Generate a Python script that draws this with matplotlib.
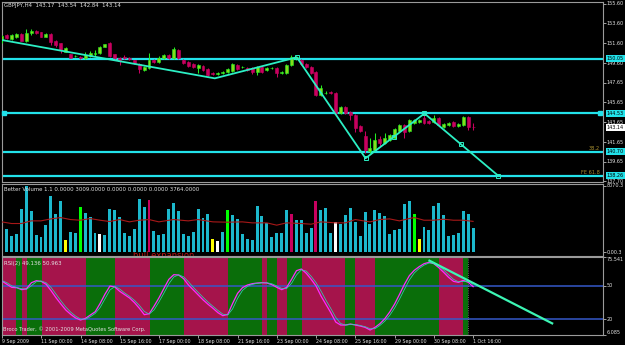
import matplotlib
matplotlib.use("Agg")
import matplotlib.pyplot as plt
import matplotlib.transforms as mtransforms
import numpy as np

# ---- GBPJPY H4 candles (9 Sep 16:00 .. 1 Oct 16:00) ----
opens = [151.93, 152.44, 152.03, 152.24, 152.54, 151.83, 152.64, 152.84, 152.74, 152.24,
         152.54, 151.83, 151.63, 150.72, 150.52, 150.32, 150.22, 150.12, 150.32, 150.52,
         150.62, 151.23, 151.63, 150.52, 150.12, 150.22, 150.12, 149.92, 149.52, 148.91,
         149.11, 149.92, 149.72, 150.12, 150.42, 150.12, 150.93, 149.92, 149.72, 149.52,
         149.11, 149.32, 149.01, 148.61, 148.51, 148.61, 148.71, 148.81, 149.42, 149.21,
         149.11, 149.11, 148.71, 149.21, 148.91, 149.11, 149.11, 148.61, 148.61, 149.42,
         150.02, 149.92, 149.52, 149.21, 148.71, 146.39, 146.60, 146.70, 146.60, 144.58,
         145.19, 144.68, 144.38, 143.27, 142.27, 140.76, 140.86, 141.96, 141.56, 141.86,
         142.06, 142.77, 143.37, 142.77, 143.57, 143.68, 144.08, 143.78, 143.68, 144.08,
         143.17, 143.37, 143.68, 143.27, 143.37, 144.18, 143.17]
highs = [152.44, 152.54, 152.54, 152.64, 152.64, 153.04, 153.04, 152.94, 152.74, 152.64,
         152.64, 151.93, 151.63, 151.23, 150.52, 150.42, 150.32, 150.72, 150.82, 150.93,
         151.33, 151.53, 151.73, 150.52, 150.22, 150.42, 150.22, 149.92, 149.62, 149.32,
         150.62, 150.02, 150.32, 150.52, 150.52, 151.23, 151.03, 150.02, 149.82, 149.62,
         149.52, 149.42, 149.11, 148.71, 148.71, 148.81, 149.11, 149.62, 149.52, 149.32,
         149.21, 149.21, 149.32, 149.32, 149.21, 149.21, 149.21, 148.81, 149.52, 150.42,
         150.32, 150.02, 149.62, 149.32, 148.81, 147.40, 146.80, 146.80, 146.70, 145.29,
         145.29, 144.78, 144.48, 143.37, 142.77, 142.06, 142.57, 142.27, 142.57, 142.47,
         143.07, 143.47, 143.47, 143.98, 143.98, 143.98, 144.58, 143.88, 144.38, 144.18,
         143.57, 143.68, 143.78, 143.57, 144.28, 144.28, 143.54]
lows = [151.63, 152.03, 151.93, 152.13, 151.83, 151.73, 152.44, 152.54, 152.24, 152.24,
        151.43, 151.23, 150.62, 150.72, 150.12, 150.22, 150.02, 150.02, 150.22, 150.32,
        150.52, 151.23, 150.22, 150.02, 149.42, 150.02, 149.92, 149.52, 148.61, 148.81,
        149.01, 149.62, 149.62, 150.02, 150.02, 150.02, 150.02, 149.52, 149.21, 149.11,
        148.61, 148.81, 148.31, 148.41, 148.41, 148.51, 148.61, 148.71, 148.91, 149.11,
        148.81, 148.51, 148.41, 148.61, 148.81, 149.01, 148.21, 148.51, 148.51, 149.32,
        149.92, 149.42, 149.11, 148.51, 146.29, 146.29, 146.49, 146.49, 144.48, 144.48,
        144.48, 143.88, 142.67, 142.67, 140.55, 140.55, 140.76, 141.26, 141.46, 141.76,
        141.96, 142.67, 142.06, 142.67, 143.47, 143.57, 143.47, 143.47, 143.57, 143.27,
        143.07, 143.27, 143.17, 143.17, 143.27, 142.87, 142.84]
closes = [152.34, 152.13, 152.44, 152.54, 151.83, 152.64, 152.84, 152.64, 152.24, 152.54,
          151.73, 151.43, 150.93, 151.13, 150.12, 150.33, 150.12, 150.42, 150.62, 150.62,
          151.23, 151.53, 150.32, 150.12, 149.82, 150.12, 150.02, 149.62, 149.01, 149.21,
          149.92, 149.72, 150.12, 150.42, 150.12, 151.03, 150.12, 149.62, 149.32, 149.21,
          149.42, 148.91, 148.41, 148.51, 148.61, 148.71, 149.01, 149.52, 149.01, 149.22,
          148.91, 148.71, 149.21, 148.71, 149.11, 149.12, 148.61, 148.71, 149.42, 150.22,
          150.22, 149.52, 149.21, 148.61, 146.39, 147.10, 146.61, 146.60, 144.58, 145.19,
          144.58, 144.38, 143.07, 142.77, 140.86, 141.06, 141.86, 141.56, 142.06, 142.37,
          142.97, 143.37, 142.67, 143.88, 143.88, 143.88, 143.57, 143.57, 144.08, 143.37,
          143.47, 143.57, 143.27, 143.47, 144.18, 143.17, 143.14]

# ---- Better Volume ----
volumes = [5195, 2779, 1973, 2215, 5316, 8070.3, 5034, 2094, 1812, 3383,
           6806, 4712, 6242, 1490, 2497, 2376, 5517, 4832, 4309, 2295,
           2215, 2094, 5316, 5195, 4309, 2295, 1973, 2779, 6524, 5517,
           6403, 2618, 2094, 2215, 5316, 6041, 4993, 2215, 1973, 2497,
           5316, 4228, 4712, 1571, 1369, 2416, 5195, 4510, 4108, 2215,
           1571, 1490, 5598, 4389, 3584, 1812, 2376, 2295, 5114, 4631,
           3987, 3987, 2376, 2980, 6242, 5195, 5436, 2295, 3705, 3503,
           4510, 5436, 3705, 1973, 4913, 3503, 5114, 4832, 4389, 2215,
           2698, 2779, 5839, 6242, 4631, 1571, 3020, 2698, 5598, 6041,
           4510, 1973, 2094, 2376, 4993, 4712, 3009]
vol_yellow = [13, 43, 85]
vol_green = [16, 46, 84]
vol_white = [20, 44, 68]
vol_red = [30, 59, 64]
ma_bars = [0, 2, 4, 6, 8, 10, 12, 14, 16, 18, 20, 22, 24, 26, 28, 30, 32, 35, 38, 40,
           43, 46, 49, 51, 54, 56, 58, 61, 63, 65, 68, 70, 72, 75, 77, 79, 81, 83, 84,
           86, 88, 90, 92, 94, 96]
ma_values = [3705, 3503, 3503, 3826, 3826, 4067, 4228, 3987, 3906, 4108, 3906, 3745,
             3987, 3705, 3906, 3987, 3705, 3987, 3826, 3987, 3705, 3665, 3705, 3584,
             3584, 3302, 3584, 3503, 3420, 3705, 3584, 3584, 3987, 3705, 3987, 4067,
             3826, 4108, 4228, 3906, 3906, 4027, 3906, 3906, 3764]

# ---- RSI(2) ----
rsi_main = [54.2, 51.2, 48.5, 48.2, 46.4, 47.3, 52.7, 54.5, 53.9, 51.2,
            45.5, 39.2, 33.5, 28.1, 24.2, 20.9, 19.1, 20.6, 23.6, 26.6,
            34.1, 42.5, 49.7, 48.8, 44.9, 41.9, 38.9, 34.7, 29.6, 23.9,
            24.8, 31.7, 39.2, 47.6, 55.7, 59.9, 59.6, 56.3, 50.6, 46.1,
            41.6, 37.1, 33.2, 29.6, 25.7, 23.0, 24.2, 34.1, 43.1, 48.2,
            50.6, 51.8, 52.4, 52.7, 52.4, 50.9, 48.5, 46.4, 48.5, 55.7,
            63.5, 65.0, 61.1, 55.7, 49.7, 40.7, 33.2, 25.7, 17.3, 14.6,
            14.6, 15.5, 14.6, 13.7, 12.5, 10.1, 12.5, 15.8, 20.3, 26.3,
            33.5, 42.2, 51.2, 59.0, 63.8, 67.1, 69.8, 71.0, 69.8, 66.2,
            62.0, 57.5, 53.9, 53.0, 54.8, 53.0, 49.136]
rsi_signal = [54.5, 52.7, 49.8, 48.4, 47.3, 46.8, 50.0, 53.6, 54.2, 52.6,
              48.4, 42.4, 36.4, 30.8, 26.2, 22.6, 20.0, 19.8, 22.1, 25.1,
              30.4, 38.3, 46.1, 49.3, 46.9, 43.4, 40.4, 36.8, 32.2, 26.8,
              24.4, 28.3, 35.5, 43.4, 51.7, 57.8, 59.8, 58.0, 53.5, 48.4,
              43.9, 39.4, 35.2, 31.4, 27.7, 24.4, 23.6, 29.2, 38.6, 45.7,
              49.4, 51.2, 52.1, 52.6, 52.6, 51.7, 49.7, 47.5, 47.5, 52.1,
              59.6, 64.3, 63.1, 58.4, 52.7, 45.2, 37.0, 29.5, 21.5, 16.0,
              14.6, 15.1, 15.1, 14.2, 13.1, 11.3, 11.3, 14.2, 18.1, 23.3,
              29.9, 37.9, 46.7, 55.1, 61.4, 65.5, 68.5, 70.4, 70.4, 68.0,
              64.1, 59.8, 55.7, 53.5, 53.9, 53.9, 50.963]
band_edges = [0.06, 2.91, 4.07, 5.09, 8.15, 17.17, 23.08, 30.06, 37.13, 46.03, 52.95,
              53.97, 56.13, 58.17, 61.10, 69.92, 71.96, 76.03, 89.12, 94.01, 95.03]
band_up = [0, 1, 0, 1, 0, 1, 0, 1, 0, 1, 0, 1, 0, 1, 0, 1, 0, 1, 0, 1]

# ---- drawings / axis text ----
price_ticks = [155.60, 153.60, 151.60, 149.60, 147.65, 145.65, 143.65, 141.65, 139.65, 137.70]
level_lines = [150.05, 144.53, 140.70, 138.26]
current_price = 143.14
zigzag_bars = [0.06, 43.4, 60.1, 74.1, 86.1, 101.1]
zigzag_prices = [151.93, 148.07, 150.19, 140.02, 144.53, 138.27]
marker_bars = [60.1, 74.1, 79.9, 86.1, 93.5, 101.1]
marker_prices = [150.19, 140.02, 142.20, 144.53, 141.44, 138.27]
rsi_trend_bars = [87.1, 112.1]
rsi_trend_values = [72.5, 16.1]
date_labels = ["9 Sep 2009", "11 Sep 00:00", "14 Sep 08:00", "15 Sep 16:00",
               "17 Sep 00:00", "18 Sep 08:00", "21 Sep 16:00", "23 Sep 00:00",
               "24 Sep 08:00", "25 Sep 16:00", "29 Sep 00:00", "30 Sep 08:00",
               "1 Oct 16:00"]

W, H = 625, 345
plt.rcParams["font.family"] = "DejaVu Sans"
fig = plt.figure(figsize=(W / 100, H / 100), dpi=100, facecolor="black")

XLIM = (0.06, 122.46)
GRID = "#9a9a9a"
TXT = "#e2e2e2"
CYAN = "#22e2ea"
ZZ = "#2cefc4"


def pane(top, bottom):
    ax = fig.add_axes([2 / W, 1 - bottom / H, 601 / W, (bottom - top) / H])
    ax.set_facecolor("black")
    ax.set_xlim(*XLIM)
    for s in ax.spines.values():
        s.set_color(GRID)
        s.set_linewidth(0.8)
    ax.yaxis.tick_right()
    ax.tick_params(axis="y", colors=TXT, length=2, width=0.5, labelright=False)
    ax.tick_params(axis="x", bottom=False, labelbottom=False)
    return ax


def right_label(ax, value, text, va="center", box=None, size=3.5):
    tr = mtransforms.blended_transform_factory(ax.transAxes, ax.transData)
    kw = {}
    if box is not None:
        kw["bbox"] = dict(boxstyle="square,pad=0.22", fc=box, ec="none")
    ax.text(1.006, value, text, transform=tr, ha="left", va=va, fontsize=size,
            color="black" if box else TXT, clip_on=False, zorder=6, **kw)


def fig_text(x, y, s, size=3.9, color=TXT, ax=None, **kw):
    target = ax if ax is not None else fig
    if ax is not None:
        kw["transform"] = fig.transFigure
        kw["clip_on"] = False
    target.text(x / W, 1 - y / H, s, fontsize=size, color=color, va="center", ha="left", **kw)


ax_main = pane(2, 182)
ax_vol = pane(184, 256)
ax_rsi = pane(257.3, 334.5)

# ---- main pane ----
idx = np.arange(len(closes))
o = np.array(opens)
c = np.array(closes)
bull = c >= o
face = np.where(bull, "#86dc1c", "#c8005f")
edge = np.where(bull, "#22ee22", "#c8005f")
ax_main.set_ylim(137.63, 155.76)
ax_main.vlines(idx, lows, highs, colors=edge, linewidth=0.75, zorder=3)
ax_main.bar(idx, np.maximum(np.abs(c - o), 0.04), bottom=np.minimum(o, c), width=0.6,
            color=face, edgecolor=edge, linewidth=0.4, zorder=4)
for v in level_lines:
    ax_main.axhline(v, color=CYAN, linewidth=1.6, zorder=2)
ax_main.plot(zigzag_bars, zigzag_prices, color=ZZ, linewidth=1.3, zorder=5)
ax_main.plot(marker_bars, marker_prices, "s", ms=2.6, mfc="none", mec=ZZ, mew=0.7, zorder=6)
ax_main.plot([0.45, 121.9], [level_lines[1]] * 2, "s", ms=2.4, color=CYAN, clip_on=False, zorder=6)
ax_main.set_yticks(price_ticks)
ax_main.set_yticklabels([])
for v in price_ticks:
    right_label(ax_main, v, f"{v:.2f}")
for v in level_lines:
    right_label(ax_main, v, f"{v:.2f}", box=CYAN)
right_label(ax_main, current_price, f"{current_price:.2f}", box="white")
ax_main.text(121.9, 140.80, "38.2", ha="right", va="bottom", fontsize=3.6, color="#a89030", zorder=6)
ax_main.text(121.9, 138.36, "FE 61.8", ha="right", va="bottom", fontsize=3.6, color="#a89030", zorder=6)
fig_text(4, 6, "GBPJPY,H4  143.17  143.54  142.84  143.14")

# ---- volume pane ----
vcol = ["#1cb8cc"] * len(volumes)
for lst, col in ((vol_yellow, "#ffff00"), (vol_green, "#00ff00"),
                 (vol_white, "#ffffff"), (vol_red, "#c8005f")):
    for k in lst:
        vcol[k] = col
ax_vol.set_ylim(-450, 8313)
ax_vol.bar(idx, volumes, width=0.6, color=vcol, linewidth=0, zorder=2)
ax_vol.plot(ma_bars, ma_values, color="#a81818", linewidth=0.8, zorder=3)
ax_vol.set_yticks([8070.3, 0])
ax_vol.set_yticklabels([])
right_label(ax_vol, 8070.3, "8070.3")
right_label(ax_vol, 0, "0.00.3")
fig_text(4, 189.5, "Better Volume 1.1 0.0000 3009.0000 0.0000 0.0000 0.0000 3764.0000")
ax_vol.text(133 / W, 1 - 251 / H, "bull expansion", transform=fig.transFigure, clip_on=False,
            fontsize=6, color="#b81414", ha="left", va="top", zorder=1)

# ---- RSI pane ----
ax_rsi.set_ylim(6.085, 75.541)
for k, up in enumerate(band_up):
    ax_rsi.axvspan(band_edges[k], band_edges[k + 1], color="#0a6e0a" if up else "#a5144b",
                   linewidth=0, zorder=1)
for lv in (50, 20):
    ax_rsi.axhline(lv, color="#3558c8", linewidth=1.1, zorder=2)
ax_rsi.axvline(band_edges[-1], color="#8a8a8a", linestyle=":", linewidth=0.6, zorder=2)
ax_rsi.plot(idx, rsi_main, color="#ff2cff", linewidth=0.9, zorder=3)
ax_rsi.plot(idx, rsi_signal, color="#38c8b0", linewidth=0.55, zorder=4)
ax_rsi.plot(rsi_trend_bars, rsi_trend_values, color="#3cf5b4", linewidth=1.6, zorder=5)
ax_rsi.set_yticks([75.541, 50, 20, 6.085])
ax_rsi.set_yticklabels([])
right_label(ax_rsi, 75.541, "75.541", va="top")
right_label(ax_rsi, 50, "50")
right_label(ax_rsi, 20, "20")
right_label(ax_rsi, 6.085, "6.085", va="bottom")
fig_text(4, 264, "RSI(2) 49.136 50.963")
fig_text(3, 329.5, "Broco Trader, \u00a9 2001-2009 MetaQuotes Software Corp.", size=3.7)

ax_rsi.set_xticks(np.arange(0, 97, 8))
ax_rsi.set_xticklabels(date_labels)
ax_rsi.tick_params(axis="x", bottom=True, labelbottom=True, colors=TXT, length=2,
                   width=0.5, labelsize=3.4, pad=1.2)
for lab in ax_rsi.get_xticklabels():
    lab.set_ha("left")

fig.savefig("out.png", dpi=100, facecolor="black")
